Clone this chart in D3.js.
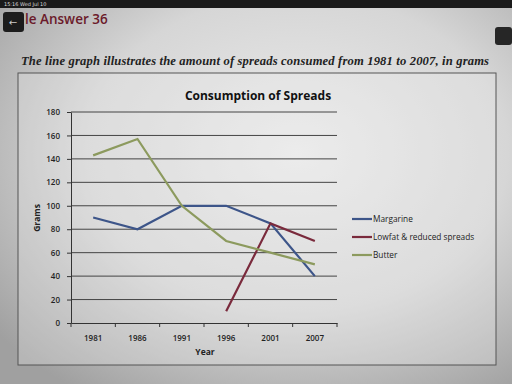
<!DOCTYPE html>
<html lang="en">
<head>
<meta charset="utf-8">
<title>Consumption of Spreads</title>
<script src="https://d3js.org/d3.v7.min.js"></script>
<style>
  body { margin: 0; background: #c9c9c9; }
  svg { display: block; }
</style>
</head>
<body>
<div class="chart"></div>
<script>
// data
const years = ["1981", "1986", "1991", "1996", "2001", "2007"];
const margarine = [90, 80, 100, 100, 85, 40];
const lowfat = [null, null, null, 10, 85, 70];
const butter = [143, 157, 100, 70, 60, 50];
const seriesNames = ["Margarine", "Lowfat & reduced spreads", "Butter"];
const seriesColors = ["#3d5589", "#7a2a3c", "#8c9a5e"];
const yTicks = [0, 20, 40, 60, 80, 100, 120, 140, 160, 180];

const W = 512, H = 384;
const margin = {top: 112, right: 175, bottom: 61, left: 71};

const svg = d3.select(".chart").append("svg")
  .attr("width", W).attr("height", H);

// photo-like background
const defs = svg.append("defs");
const grad = defs.append("radialGradient").attr("id", "bg")
  .attr("cx", "58%").attr("cy", "40%").attr("r", "75%");
grad.append("stop").attr("offset", "0%").attr("stop-color", "#ececec");
grad.append("stop").attr("offset", "55%").attr("stop-color", "#d6d6d6");
grad.append("stop").attr("offset", "100%").attr("stop-color", "#a0a0a0");
svg.append("rect").attr("width", W).attr("height", H).attr("fill", "url(#bg)");

// status bar
svg.append("rect").attr("width", W).attr("height", 8).attr("fill", "#1a1a1a");
svg.append("text").attr("x", 4).attr("y", 6).attr("font-family", "DejaVu Sans")
  .attr("font-size", 5).attr("fill", "#ddd").text("15:16   Wed Jul 10");

// header
svg.append("rect").attr("x", 3).attr("y", 12).attr("width", 21).attr("height", 20)
  .attr("rx", 3).attr("fill", "#1c1c1c");
svg.append("text").attr("x", 13).attr("y", 26).attr("text-anchor", "middle")
  .attr("font-family", "DejaVu Sans").attr("font-size", 10).attr("fill", "#ccc").text("←");
svg.append("text").attr("x", 25).attr("y", 24).attr("font-family", "Open Sans, sans-serif")
  .attr("font-size", 13.5).attr("font-weight", 600).attr("fill", "#6b1a2a").text("le Answer 36");
svg.append("rect").attr("x", 495).attr("y", 27).attr("width", 17).attr("height", 18)
  .attr("rx", 3).attr("fill", "#262626");
svg.append("text").attr("x", 21).attr("y", 65)
  .attr("font-family", "Liberation Serif, serif").attr("font-style", "italic")
  .attr("font-weight", "bold").attr("font-size", 12.6).attr("fill", "#222")
  .attr("textLength", 468)
  .text("The line graph illustrates the amount of spreads consumed from 1981 to 2007, in grams");

// chart frame
svg.append("rect").attr("x", 18).attr("y", 73).attr("width", 478).attr("height", 292)
  .attr("fill", "#ececec").attr("fill-opacity", 0.3)
  .attr("stroke", "#555").attr("stroke-width", 1);

const innerW = W - margin.left - margin.right;
const innerH = H - margin.top - margin.bottom;
const g = svg.append("g").attr("transform", `translate(${margin.left},${margin.top})`);

const x = d3.scaleBand().domain(years).range([0, innerW]);
const y = d3.scaleLinear().domain([0, 180]).range([innerH, 0]);

// gridlines
g.selectAll(".grid").data(yTicks.filter(d => d > 0)).enter().append("line")
  .attr("x1", 0).attr("x2", innerW)
  .attr("y1", d => y(d)).attr("y2", d => y(d))
  .attr("stroke", "#444").attr("stroke-width", 1);

const yAxis = g.append("g").call(d3.axisLeft(y).tickValues(yTicks).tickSize(4).tickSizeOuter(0));
const xAxis = g.append("g").attr("transform", `translate(0,${innerH})`)
  .call(d3.axisBottom(x).tickSize(0).tickSizeOuter(0));
// ticks at band edges
g.selectAll(".xt").data(years.concat(["end"])).enter().append("line")
  .attr("x1", (d, i) => i * x.step()).attr("x2", (d, i) => i * x.step())
  .attr("y1", innerH).attr("y2", innerH + 4)
  .attr("stroke", "#333");

[yAxis, xAxis].forEach(a => {
  a.selectAll("path").attr("stroke", "#333");
  a.selectAll("line").attr("stroke", "#333");
  a.selectAll("text").attr("font-family", "Open Sans, sans-serif")
    .attr("font-size", 8).attr("font-weight", 600).attr("fill", "#222");
});
xAxis.selectAll("text").attr("dy", "1.9em");
yAxis.selectAll("text").attr("dx", "-0.5em");

// lines
const line = d3.line()
  .defined(d => d != null)
  .x((d, i) => x(years[i]) + x.bandwidth() / 2)
  .y(d => y(d));
[margarine, lowfat, butter].forEach((s, k) => {
  g.append("path").datum(s).attr("d", line)
    .attr("fill", "none").attr("stroke", seriesColors[k]).attr("stroke-width", 2.2);
});

// title and axis labels
svg.append("text").attr("x", 258).attr("y", 100).attr("text-anchor", "middle")
  .attr("font-family", "Open Sans, sans-serif").attr("font-weight", "bold")
  .attr("font-size", 12).attr("fill", "#111").text("Consumption of Spreads");
svg.append("text").attr("x", 205).attr("y", 355).attr("text-anchor", "middle")
  .attr("font-family", "Open Sans, sans-serif").attr("font-weight", "bold")
  .attr("font-size", 8.5).attr("fill", "#222").text("Year");
svg.append("text").attr("transform", "translate(40,218) rotate(-90)").attr("text-anchor", "middle")
  .attr("font-family", "Open Sans, sans-serif").attr("font-weight", "bold")
  .attr("font-size", 8.5).attr("fill", "#222").text("Grams");

// legend
const legend = svg.append("g").attr("transform", "translate(352,219)");
seriesNames.forEach((n, i) => {
  legend.append("line").attr("x1", 0).attr("x2", 20)
    .attr("y1", i * 18).attr("y2", i * 18)
    .attr("stroke", seriesColors[i]).attr("stroke-width", 2.2);
  legend.append("text").attr("x", 21).attr("y", i * 18 + 3)
    .attr("font-family", "Open Sans, sans-serif").attr("font-size", 8.3)
    .attr("fill", "#222").text(n);
});
</script>
</body>
</html>
